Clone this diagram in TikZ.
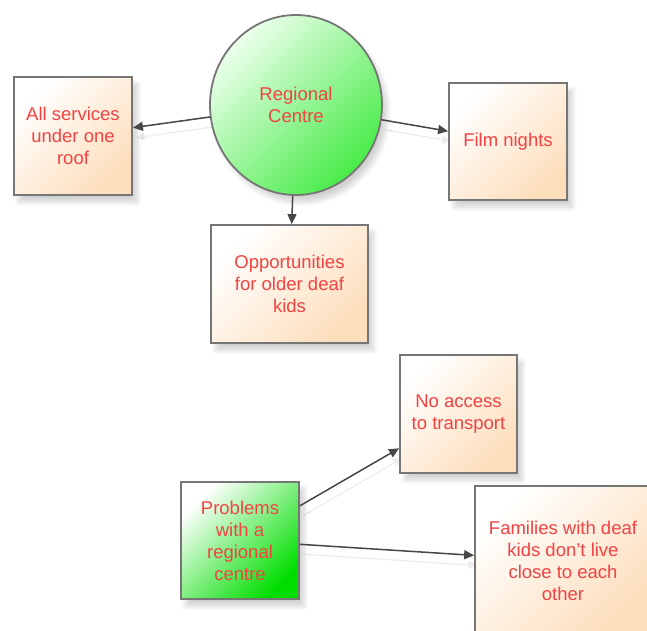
\documentclass[tikz,border=0pt]{standalone}
\usepackage{fontspec}
\setmainfont{Liberation Sans}
\usetikzlibrary{shapes.geometric,arrows.meta,shadows.blur}
\pgfdeclarelayer{bg}
\pgfsetlayers{bg,main}
\definecolor{txtred}{RGB}{242,66,66}
\definecolor{peach}{RGB}{253,222,188}
\definecolor{edgegray}{RGB}{118,118,118}
\definecolor{greenTop}{RGB}{236,255,236}
\definecolor{greenA}{RGB}{72,236,72}
\definecolor{greenB}{RGB}{0,222,0}
\definecolor{arrowgray}{RGB}{70,70,70}
\tikzset{
  basenode/.style={draw=edgegray, line width=1.8bp, text=txtred,
    font=\fontsize{18.5bp}{22bp}\selectfont, align=center, inner sep=0pt,
    blur shadow={shadow xshift=5bp, shadow yshift=-7bp, shadow blur steps=8,
      shadow opacity=18, shadow blur radius=5bp}},
  ideabox/.style={basenode, rectangle, top color=white, bottom color=peach, shading angle=45},
  problembox/.style={basenode, rectangle, top color=white, bottom color=greenB, shading angle=45},
  centreshape/.style={basenode, ellipse, top color=greenTop, bottom color=greenA, shading angle=45},
  conn/.style={draw=arrowgray, line width=1.5bp, -{Triangle[length=10bp,width=9bp]}},
  connshadow/.style={draw=black!7, line width=1.2bp, -{Triangle[length=9bp,width=8bp]},
    transform canvas={xshift=3bp,yshift=-10bp}},
}
\begin{document}
\begin{tikzpicture}[x=1bp,y=-1bp]
\useasboundingbox (0,0) rectangle (647,631);
\clip (0,0) rectangle (647,631);
\node[centreshape, minimum width=172bp, minimum height=180bp] (rc) at (296,105) {Regional\\Centre};
\node[ideabox, minimum width=118bp, minimum height=118bp] (svc) at (73,136) {All services\\under one\\roof};
\node[ideabox, minimum width=118bp, minimum height=117bp] (film) at (508,141.5) {Film nights};
\node[ideabox, minimum width=157bp, minimum height=118bp] (opp) at (289.5,284) {Opportunities\\for older deaf\\kids};
\node[ideabox, minimum width=117bp, minimum height=118bp] (noacc) at (458.5,414) {No access\\to transport};
\node[problembox, minimum width=118bp, minimum height=117bp] (prob) at (240,540.5) {Problems\\with a\\regional\\centre};
\node[ideabox, minimum width=176bp, minimum height=150bp] (fam) at (563,561) {Families with deaf\\kids don't live\\close to each\\other};
\begin{pgfonlayer}{bg}
\draw[connshadow] (rc) -- (svc);
\draw[connshadow] (rc) -- (film);
\draw[connshadow] (prob) -- (noacc);
\draw[connshadow] (prob) -- (fam);
\end{pgfonlayer}
\draw[conn] (rc) -- (svc);
\draw[conn] (rc) -- (film);
\draw[conn] (rc) -- (opp);
\draw[conn] (prob) -- (noacc);
\draw[conn] (prob) -- (fam);
\end{tikzpicture}
\end{document}
